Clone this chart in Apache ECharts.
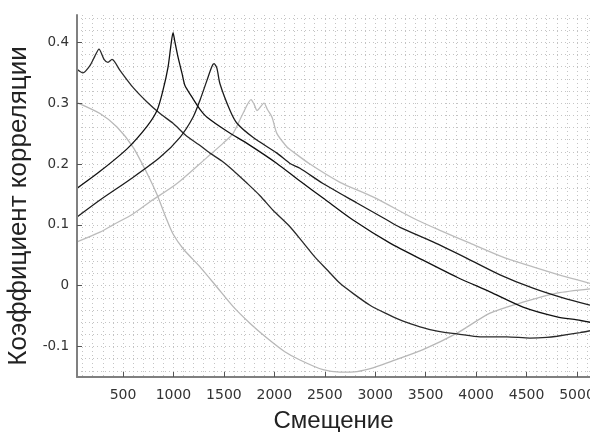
<!DOCTYPE html>
<html>
<head>
<meta charset="utf-8">
<script src="https://cdn.jsdelivr.net/npm/echarts@6/dist/echarts.min.js"></script>
<style>
html,body{margin:0;padding:0;background:#fff;}
#chart{width:590px;height:432px;}
</style>
</head>
<body>
<div id="chart"></div>
<script>
// ---- data ----
const xTicks = [500, 1000, 1500, 2000, 2500, 3000, 3500, 4000, 4500, 5000];
const yTicks = [-0.1, 0, 0.1, 0.2, 0.3, 0.4];

const seriesA = [[44,0.356],[103,0.350],[173,0.362],[220,0.377],[262,0.389],[312,0.372],[351,0.367],[391,0.372],[470,0.354],[599,0.326],[738,0.302],[867,0.283],[996,0.267],[1124,0.247],[1250,0.232],[1362,0.218],[1480,0.205],[1590,0.19],[1720,0.17],[1858,0.148],[1987,0.124],[2155,0.097],[2280,0.072],[2403,0.047],[2530,0.025],[2651,0.004],[2800,-0.015],[2948,-0.032],[3100,-0.045],[3246,-0.056],[3400,-0.065],[3543,-0.072],[3700,-0.077],[3811,-0.079],[4039,-0.084],[4306,-0.084],[4534,-0.086],[4700,-0.085],[4802,-0.083],[5030,-0.077],[5129,-0.074]];

const seriesB = [[44,0.160],[272,0.188],[540,0.225],[738,0.262],[837,0.288],[896,0.321],[946,0.359],[975,0.395],[996,0.416],[1012,0.403],[1045,0.376],[1085,0.349],[1114,0.329],[1184,0.31],[1263,0.29],[1333,0.277],[1531,0.254],[1729,0.234],[2026,0.201],[2254,0.172],[2500,0.142],[2780,0.108],[3147,0.07],[3474,0.042],[3811,0.014],[4138,-0.01],[4465,-0.035],[4802,-0.051],[5000,-0.056],[5129,-0.06]];

const seriesC = [[44,0.113],[272,0.141],[599,0.178],[867,0.211],[1065,0.244],[1194,0.277],[1263,0.305],[1333,0.338],[1380,0.36],[1402,0.365],[1430,0.358],[1461,0.332],[1561,0.288],[1630,0.267],[1788,0.244],[2026,0.218],[2155,0.201],[2254,0.193],[2482,0.168],[2819,0.136],[3117,0.108],[3246,0.096],[3573,0.072],[3910,0.045],[4237,0.018],[4564,-0.004],[4861,-0.02],[5129,-0.032]];

const seriesD = [[44,0.072],[272,0.088],[401,0.1],[599,0.118],[768,0.138],[1035,0.168],[1333,0.211],[1491,0.234],[1590,0.25],[1689,0.283],[1769,0.306],[1800,0.298],[1828,0.288],[1898,0.3],[1930,0.29],[1977,0.277],[2026,0.25],[2125,0.228],[2155,0.224],[2353,0.2],[2651,0.17],[2978,0.146],[3414,0.108],[3642,0.091],[3940,0.07],[4267,0.047],[4604,0.029],[4901,0.014],[5129,0.004]];

const seriesE = [[44,0.301],[272,0.283],[440,0.261],[599,0.228],[738,0.185],[837,0.15],[930,0.11],[996,0.085],[1100,0.06],[1263,0.031],[1420,0],[1590,-0.034],[1760,-0.062],[1927,-0.086],[2100,-0.108],[2254,-0.122],[2482,-0.138],[2650,-0.142],[2819,-0.141],[2978,-0.135],[3147,-0.125],[3474,-0.105],[3811,-0.078],[4138,-0.045],[4465,-0.027],[4802,-0.012],[5129,-0.005]];

// grid line positions (dotted minor grid)
const xGridVals = [];
for (let v = 100; v <= 5100; v += 100) xGridVals.push(v);
const yGridVals = [];
for (let i = -7; i <= 22; i++) yGridVals.push(+(i * 0.02).toFixed(2));

const X_MIN = 44, X_MAX = 5129, Y_MIN = -0.15, Y_MAX = 0.445;

const gridLine = {show: true, lineStyle: {color: '#c4c4c4', width: 1, type: [1, 3]}};
const axisCol = '#808080';

const chart = echarts.init(document.getElementById('chart'), null, {renderer: 'canvas'});
const mk = (data, color) => ({
  type: 'line', data: data, xAxisIndex: 0, yAxisIndex: 0,
  showSymbol: false, symbol: 'none', smooth: 0.25,
  lineStyle: {color: color, width: 1.3}, z: 3, animation: false
});

chart.setOption({
  animation: false,
  grid: {left: 77, right: 0, top: 15, bottom: 55, containLabel: false, outerBoundsMode: 'none'},
  xAxis: [
    {
      type: 'value', min: X_MIN, max: X_MAX, position: 'bottom',
      axisLine: {show: true, onZero: false, lineStyle: {color: axisCol, width: 2}},
      axisTick: {show: true, inside: true, length: 5, customValues: xTicks, lineStyle: {color: '#555', width: 1}},
      axisLabel: {customValues: xTicks, formatter: v => String(v), fontFamily: 'DejaVu Sans', fontSize: 14, color: '#333', margin: 11},
      splitLine: {show: false},
      name: 'Смещение', nameLocation: 'middle', nameGap: 32,
      nameTextStyle: {fontFamily: 'Liberation Sans', fontSize: 24, color: '#222'},
      z: 5
    },
    {
      type: 'value', min: X_MIN, max: X_MAX, position: 'bottom',
      axisLine: {show: false, onZero: false}, axisLabel: {show: false},
      axisTick: {show: false, customValues: xGridVals},
      splitLine: gridLine, z: 1
    }
  ],
  yAxis: [
    {
      type: 'value', min: Y_MIN, max: Y_MAX, position: 'left',
      axisLine: {show: true, onZero: false, lineStyle: {color: axisCol, width: 2}},
      axisTick: {show: true, inside: true, length: 5, customValues: yTicks, lineStyle: {color: '#555', width: 1}},
      axisLabel: {customValues: yTicks, formatter: v => String(v), fontFamily: 'DejaVu Sans', fontSize: 13.5, color: '#333', margin: 8},
      splitLine: {show: false},
      name: 'Коэффициент корреляции', nameLocation: 'middle', nameGap: 36,
      nameTextStyle: {fontFamily: 'Liberation Sans', fontSize: 26, color: '#222', padding: [0, 20, 0, 0]},
      z: 5
    },
    {
      type: 'value', min: Y_MIN, max: Y_MAX, position: 'left',
      axisLine: {show: false, onZero: false}, axisLabel: {show: false},
      axisTick: {show: false, customValues: yGridVals},
      splitLine: gridLine, z: 1
    }
  ],
  series: [
    mk(seriesE, '#b8b8b8'),
    mk(seriesD, '#bcbcbc'),
    mk(seriesA, '#2a2a2a'),
    mk(seriesC, '#1e1e1e'),
    mk(seriesB, '#111111')
  ]
});
</script>
</body>
</html>
